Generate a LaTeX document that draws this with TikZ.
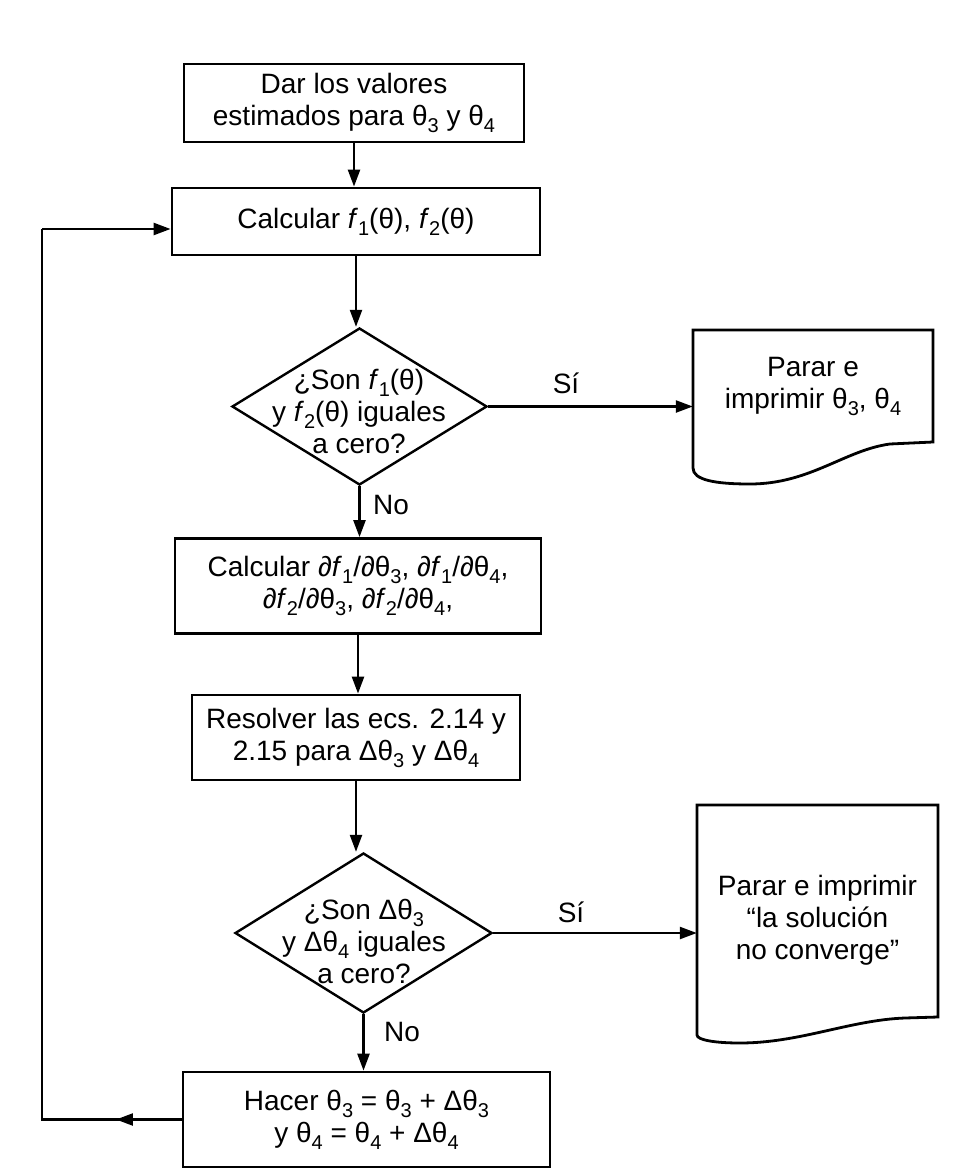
\documentclass[tikz,border=0pt]{standalone}
\usepackage{fontspec}
\setmainfont{Liberation Sans}
\usetikzlibrary{shapes.geometric,arrows.meta,calc}
\newcommand\sbs[1]{\raisebox{-7pt}{\fontsize{20}{20}\selectfont #1}}
\newcommand\ffn[1]{\textit{f}\sbs{#1}}
\begin{document}
\begin{tikzpicture}[x=1pt,y=-1pt,
  font=\fontsize{28}{32}\selectfont,
  box/.style={draw, line width=2.8pt, align=center, inner sep=0pt},
  dia/.style={draw, diamond, line width=2.4pt, inner sep=0pt},
  txt/.style={align=center, inner sep=0pt},
  ln/.style={line width=2.4pt},
  arr/.style={line width=2.4pt, -{Triangle[length=17pt,width=12pt]}}]
\useasboundingbox (0,0) rectangle (965,1169);

\node[box, minimum width=340, minimum height=78] (b1) at (354,103)
  {Dar los valores\\estimados para θ\sbs{3} y θ\sbs{4}};
\node[box, minimum width=368, minimum height=67] (b2) at (356,221.5)
  {Calcular \ffn{1}(θ), \ffn{2}(θ)};
\node[dia, minimum width=255, minimum height=157] (d1) at (359.5,406.5) {};
\node[txt] (d1t) at (359,411) {¿Son \ffn{1}(θ)\\y \ffn{2}(θ) iguales\\a cero?};
\node[txt] (s1) at (566,383) {Sí};
\node[txt, minimum width=240, minimum height=112] (p1) at (813,386)
  {Parar e\\imprimir θ\sbs{3}, θ\sbs{4}};
\node[txt] (n1) at (391,505) {No};
\node[box, minimum width=366, minimum height=95] (b3) at (358,586)
  {Calcular ∂\ffn{1}/∂θ\sbs{3}, ∂\ffn{1}/∂θ\sbs{4},\\∂\ffn{2}/∂θ\sbs{3}, ∂\ffn{2}/∂θ\sbs{4},};
\node[box, minimum width=328, minimum height=85] (b4) at (356,737.5)
  {Resolver las ecs. 2.14 y\\2.15 para Δθ\sbs{3} y Δθ\sbs{4}};
\node[dia, minimum width=257, minimum height=160] (d2) at (363.5,933) {};
\node[txt] (d2t) at (364,941) {¿Son Δθ\sbs{3}\\y Δθ\sbs{4} iguales\\a cero?};
\node[txt] (s2) at (571,912) {Sí};
\node[txt, minimum width=241, minimum height=230] (p2) at (817.5,920)
  {Parar e imprimir\\“la solución\\no converge”};
\node[txt] (n2) at (402,1032) {No};
\node[box, minimum width=367, minimum height=95] (b5) at (366.5,1119.5)
  {Hacer θ\sbs{3} = θ\sbs{3} + Δθ\sbs{3}\\y θ\sbs{4} = θ\sbs{4} + Δθ\sbs{4}};

% document shapes
\draw[ln, line width=2.8pt] (933,442) -- (933,330) -- (693,330) -- (693,468)
  .. controls (693,480) and (715,484) .. (750,484)
  .. controls (810,484) and (845,450) .. (890,444) -- cycle;
\draw[ln, line width=2.8pt] (938,1017) -- (938,805) -- (697,805) -- (697,1035)
  .. controls (697,1040) and (715,1043) .. (740,1043)
  .. controls (800,1043) and (850,1020) .. (905,1018) -- cycle;

% main flow
\draw[arr] (b1.south) -- (b1.south |- b2.north);
\draw[arr] (b2.south) -- (b2.south |- d1.north);
\draw[arr] (d1.south) -- (d1.south |- b3.north);
\draw[arr] (b3.south) -- (b3.south |- b4.north);
\draw[arr] (b4.south) -- (b4.south |- d2.north);
\draw[arr] (d2.south) -- (d2.south |- b5.north);
\draw[arr] (d1.east) -- (d1.east -| p1.west);
\draw[arr] (d2.east) -- (d2.east -| p2.west);

% feedback loop
\coordinate (lb) at (42,1119.5);
\coordinate (lt) at (42,229);
\draw[ln] (b5.west) -- (lb) -- (lt);
\draw[arr] (b5.west) -- ($(b5.west)!0.47!(lb)$);
\draw[arr] (lt) -- (lt -| b2.west);
\end{tikzpicture}
\end{document}
